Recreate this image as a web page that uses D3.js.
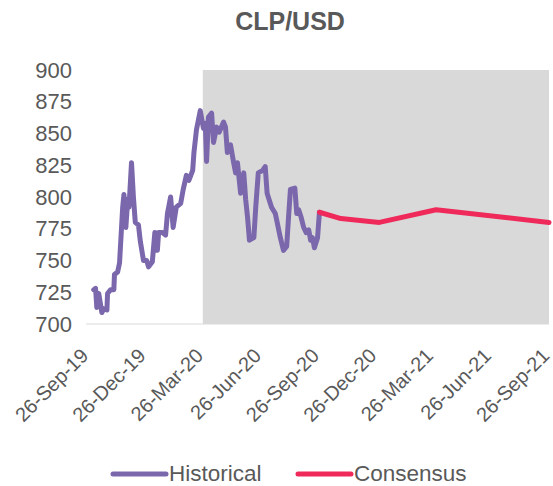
<!DOCTYPE html>
<html>
<head>
<meta charset="utf-8">
<script src="https://cdn.jsdelivr.net/npm/d3@7"></script>
<style>
  body { margin: 0; background: #fff; }
  #chart { width: 553px; height: 486px; }
  text { font-family: "Liberation Sans", Arial, sans-serif; fill: #595959; }
</style>
</head>
<body>
<div id="chart"></div>
<script>

// historical CLP/USD
const histDates = ["2019-10-05", "2019-10-08", "2019-10-10", "2019-10-13", "2019-10-18", "2019-10-21",
  "2019-10-26", "2019-10-27", "2019-11-01", "2019-11-06", "2019-11-07", "2019-11-12", "2019-11-15",
  "2019-11-20", "2019-11-22", "2019-11-25", "2019-11-28", "2019-11-30", "2019-12-04", "2019-12-07",
  "2019-12-10", "2019-12-15", "2019-12-18", "2019-12-23", "2019-12-28", "2019-12-31", "2020-01-06",
  "2020-01-10", "2020-01-14", "2020-01-16", "2020-01-22", "2020-01-27", "2020-01-30", "2020-02-04",
  "2020-02-08", "2020-02-13", "2020-02-20", "2020-02-24", "2020-02-29", "2020-03-04", "2020-03-10",
  "2020-03-12", "2020-03-16", "2020-03-22", "2020-03-27", "2020-03-30", "2020-04-01", "2020-04-04",
  "2020-04-09", "2020-04-12", "2020-04-17", "2020-04-21", "2020-04-28", "2020-05-01", "2020-05-04",
  "2020-05-09", "2020-05-14", "2020-05-17", "2020-05-20", "2020-05-25", "2020-05-30", "2020-06-02",
  "2020-06-05", "2020-06-08", "2020-06-15", "2020-06-18", "2020-06-22", "2020-06-29", "2020-07-03",
  "2020-07-06", "2020-07-13", "2020-07-19", "2020-07-22", "2020-07-27", "2020-08-01", "2020-08-06",
  "2020-08-09", "2020-08-12", "2020-08-19", "2020-08-22", "2020-08-25", "2020-08-29", "2020-09-02",
  "2020-09-06", "2020-09-10", "2020-09-13", "2020-09-16", "2020-09-19", "2020-09-24", "2020-09-27"];
const histValues = [727, 728, 713, 724, 709, 712,
  711, 724, 727, 727, 739, 741, 748,
  792, 802, 776, 798, 792, 827, 800,
  780, 778, 765, 750, 750, 745, 749,
  772, 758, 772, 772, 770, 787, 800,
  776, 792, 795, 806, 817, 813, 821,
  835, 853, 868, 854, 858, 828, 863,
  866, 843, 855, 851, 859, 855, 835,
  841, 827, 819, 827, 803, 819, 798,
  784, 766, 768, 792, 819, 821, 824,
  803, 792, 787, 780, 768, 758, 761,
  784, 806, 807, 787, 790, 784, 776,
  772, 774, 766, 768, 760, 768, 788];

// consensus forecast
const consDates = ["2020-09-27", "2020-10-31", "2020-12-31", "2021-03-31", "2021-09-26"];
const consValues = [788, 783, 780, 790, 780];

// axis ticks
const yTicks = [700, 725, 750, 775, 800, 825, 850, 875, 900];
const xTickDates = ["2019-09-26", "2019-12-26", "2020-03-26", "2020-06-26", "2020-09-26",
  "2020-12-26", "2021-03-26", "2021-06-26", "2021-09-26"];
const shadeStart = "2020-03-26";

const parse = d3.timeParse("%Y-%m-%d");
const hist = histDates.map((d, i) => ({ date: parse(d), value: histValues[i] }));
const cons = consDates.map((d, i) => ({ date: parse(d), value: consValues[i] }));

const width = 553;
const height = 486;
const margin = { top: 70, left: 88, right: 4, bottom: 162 };

const svg = d3.select("#chart")
  .append("svg")
  .attr("width", width)
  .attr("height", height);

const xScale = d3.scaleTime()
  .domain([parse(xTickDates[0]), parse(xTickDates[xTickDates.length - 1])])
  .range([margin.left, width - margin.right]);

const yScale = d3.scaleLinear()
  .domain([700, 900])
  .range([height - margin.bottom, margin.top]);

// grey band for the period after the shade start
svg.append("rect")
  .attr("x", xScale(parse(shadeStart)))
  .attr("y", yScale(900))
  .attr("width", xScale.range()[1] - xScale(parse(shadeStart)))
  .attr("height", yScale(700) - yScale(900))
  .attr("fill", "#d9d9d9");

// bottom axis line
svg.append("line")
  .attr("x1", margin.left - 2)
  .attr("x2", width - margin.right)
  .attr("y1", yScale(700))
  .attr("y2", yScale(700))
  .attr("stroke", "#d9d9d9")
  .attr("stroke-width", 1);

// y axis labels
const yAxis = svg.append("g")
  .attr("transform", `translate(${margin.left - 16},0)`)
  .call(d3.axisLeft(yScale).tickValues(yTicks).tickSize(0).tickPadding(0));
yAxis.select(".domain").remove();
yAxis.selectAll("text")
  .style("font-size", "22px")
  .attr("fill", "#595959");

// x axis labels, rotated
const xAxis = svg.append("g")
  .attr("transform", `translate(0,${yScale(700)})`)
  .call(d3.axisBottom(xScale)
    .tickValues(xTickDates.map(parse))
    .tickFormat(d3.timeFormat("%d-%b-%y"))
    .tickSize(0));
xAxis.select(".domain").remove();
xAxis.selectAll("text")
  .style("font-size", "20px")
  .attr("fill", "#595959")
  .attr("text-anchor", "end")
  .attr("dy", 0)
  .attr("y", 0)
  .attr("transform", "translate(1,33) rotate(-45)");

const line = d3.line()
  .x(d => xScale(d.date))
  .y(d => yScale(d.value))
  .curve(d3.curveLinear);

svg.append("path")
  .datum(hist)
  .attr("d", line)
  .attr("fill", "none")
  .attr("stroke", "#7b68ac")
  .attr("stroke-width", 5)
  .attr("stroke-linejoin", "round")
  .attr("stroke-linecap", "round");

svg.append("path")
  .datum(cons)
  .attr("d", line)
  .attr("fill", "none")
  .attr("stroke", "#ef2a5a")
  .attr("stroke-width", 5)
  .attr("stroke-linejoin", "round")
  .attr("stroke-linecap", "round");

// title
svg.append("text")
  .attr("x", 290)
  .attr("y", 30)
  .attr("text-anchor", "middle")
  .style("font-size", "25px")
  .style("font-weight", "bold")
  .text("CLP/USD");

// legend
const legend = [
  { name: "Historical", color: "#7b68ac", x: 113 },
  { name: "Consensus", color: "#ef2a5a", x: 298 }
];
const lg = svg.selectAll(".legend")
  .data(legend)
  .enter()
  .append("g")
  .attr("class", "legend")
  .attr("transform", d => `translate(${d.x},474)`);
lg.append("line")
  .attr("x1", 0)
  .attr("x2", 53)
  .attr("stroke", d => d.color)
  .attr("stroke-width", 5)
  .attr("stroke-linecap", "round");
lg.append("text")
  .attr("x", 56)
  .attr("y", 7)
  .style("font-size", "22.5px")
  .text(d => d.name);

</script>
</body>
</html>
